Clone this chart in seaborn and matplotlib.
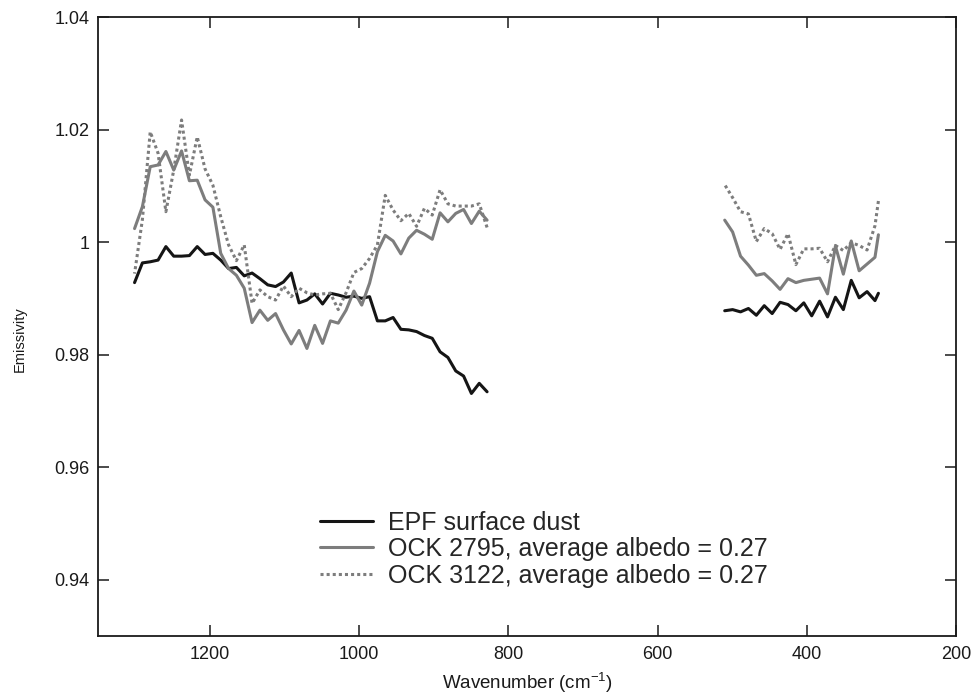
import numpy as np
import pandas as pd
import matplotlib
matplotlib.use("Agg")
import matplotlib.pyplot as plt
import seaborn as sns

# ---------------- data ----------------
wn_mid = [1301.0, 1290.5, 1280.0, 1269.5, 1259.0, 1248.5, 1238.0, 1227.5, 1217.0, 1206.5,
          1196.0, 1185.5, 1175.0, 1164.5, 1154.0, 1143.5, 1133.0, 1122.5, 1112.0, 1101.5,
          1091.0, 1080.5, 1070.0, 1059.5, 1049.0, 1038.5, 1028.0, 1017.5, 1007.0, 996.5,
          986.0, 975.5, 965.0, 954.5, 944.0, 933.5, 923.0, 912.5, 902.0, 891.5,
          881.0, 870.5, 860.0, 849.5, 839.0, 828.5]
wn_far = [510.0, 499.4, 488.8, 478.2, 467.6, 457.0, 446.4, 435.8, 425.2, 414.6,
          404.0, 393.4, 382.8, 372.2, 361.6, 351.0, 340.4, 329.8, 319.2, 308.6, 304.0]

epf_mid = [0.9928, 0.9963, 0.9965, 0.9968, 0.9992, 0.9975, 0.9975, 0.9976, 0.9992, 0.9978,
           0.9980, 0.9968, 0.9953, 0.9955, 0.9940, 0.9945, 0.9935, 0.9924, 0.9921, 0.9929,
           0.9945, 0.9892, 0.9897, 0.9908, 0.9890, 0.9909, 0.9906, 0.9902, 0.9904, 0.9900,
           0.9903, 0.9860, 0.9860, 0.9866, 0.9845, 0.9844, 0.9841, 0.9834, 0.9829, 0.9805,
           0.9795, 0.9771, 0.9762, 0.9731, 0.9749, 0.9734]
epf_far = [0.9878, 0.9880, 0.9876, 0.9882, 0.9870, 0.9887, 0.9873, 0.9893, 0.9889, 0.9878,
           0.9892, 0.9869, 0.9895, 0.9867, 0.9902, 0.9880, 0.9932, 0.9901, 0.9912, 0.9896,
           0.9909]

ock2795_mid = [1.0024, 1.0063, 1.0134, 1.0137, 1.0161, 1.0128, 1.0162, 1.0109, 1.0110, 1.0075,
               1.0062, 0.9980, 0.9953, 0.9941, 0.9918, 0.9857, 0.9879, 0.9861, 0.9873, 0.9844,
               0.9819, 0.9843, 0.9811, 0.9852, 0.9820, 0.9860, 0.9856, 0.9879, 0.9913, 0.9888,
               0.9927, 0.9983, 1.0012, 1.0002, 0.9979, 1.0007, 1.0021, 1.0014, 1.0005, 1.0052,
               1.0036, 1.0051, 1.0058, 1.0033, 1.0055, 1.0039]
ock2795_far = [1.0039, 1.0018, 0.9975, 0.9959, 0.9941, 0.9944, 0.9931, 0.9916, 0.9935, 0.9928,
               0.9932, 0.9934, 0.9936, 0.9908, 0.9993, 0.9943, 1.0002, 0.9949, 0.9961, 0.9973,
               1.0013]

ock3122_mid = [0.9944, 1.0040, 1.0196, 1.0158, 1.0054, 1.0128, 1.0217, 1.0119, 1.0187, 1.0130,
               1.0101, 1.0045, 0.9995, 0.9967, 0.9995, 0.9891, 0.9915, 0.9903, 0.9897, 0.9922,
               0.9903, 0.9918, 0.9910, 0.9906, 0.9908, 0.9909, 0.9880, 0.9910, 0.9946, 0.9953,
               0.9971, 0.9995, 1.0083, 1.0057, 1.0038, 1.0051, 1.0028, 1.0060, 1.0048, 1.0093,
               1.0068, 1.0064, 1.0064, 1.0064, 1.0068, 1.0026]
ock3122_far = [1.0102, 1.0079, 1.0054, 1.0050, 1.0001, 1.0024, 1.0015, 0.9987, 1.0015, 0.9960,
               0.9988, 0.9988, 0.9989, 0.9965, 0.9994, 0.9985, 0.9999, 0.9994, 0.9986, 1.0029,
               1.0073]

series_names = ["EPF surface dust",
                "OCK 2795, average albedo = 0.27",
                "OCK 3122, average albedo = 0.27"]

x_ticks = [1200, 1000, 800, 600, 400, 200]
x_tick_labels = ["1200", "1000", "800", "600", "400", "200"]
y_ticks = [0.94, 0.96, 0.98, 1.00, 1.02, 1.04]
y_tick_labels = ["0.94", "0.96", "0.98", "1", "1.02", "1.04"]

# ---------------- table ----------------
rows = []
for name, mid, far in zip(series_names,
                          [epf_mid, ock2795_mid, ock3122_mid],
                          [epf_far, ock2795_far, ock3122_far]):
    for w, v in zip(wn_mid, mid):
        rows.append((name, "mid", w, v))
    for w, v in zip(wn_far, far):
        rows.append((name, "far", w, v))
df = pd.DataFrame(rows, columns=["series", "segment", "wavenumber", "emissivity"])

# ---------------- style ----------------
sns.set_theme(style="ticks")
plt.rcParams["font.family"] = ["Liberation Sans", "DejaVu Sans"]
plt.rcParams["mathtext.fontset"] = "custom"
plt.rcParams["mathtext.rm"] = "Liberation Sans"
plt.rcParams["mathtext.it"] = "Liberation Sans:italic"
plt.rcParams["mathtext.bf"] = "Liberation Sans:bold"

styles = {
    series_names[0]: dict(color="#151515", linestyle="-", linewidth=2.2),
    series_names[1]: dict(color="#7d7d7d", linestyle="-", linewidth=2.2),
    series_names[2]: dict(color="#7d7d7d", linestyle=(0, (1, 1)), linewidth=2.2),
}

fig = plt.figure(figsize=(9.77, 6.96), dpi=100)
ax = fig.add_axes([98 / 977, 1 - 636 / 696, (956 - 98) / 977, (636 - 17) / 696])

for name in series_names:
    for seg in ["mid", "far"]:
        sub = df[(df["series"] == name) & (df["segment"] == seg)]
        sns.lineplot(data=sub, x="wavenumber", y="emissivity", ax=ax,
                     label=name if seg == "mid" else None, legend=False,
                     **styles[name])

ax.set_xlim(1350, 200)
ax.set_ylim(0.93, 1.04)
ax.set_xticks(x_ticks)
ax.set_xticklabels(x_tick_labels)
ax.set_yticks(y_ticks)
ax.set_yticklabels(y_tick_labels)

ax.tick_params(direction="in", top=True, right=True, length=8, width=1.1,
               labelsize=13, colors="#1a1a1a")
ax.tick_params(axis="x", pad=7)
ax.tick_params(axis="y", pad=6)
for sp in ax.spines.values():
    sp.set_visible(True)
    sp.set_linewidth(1.3)
    sp.set_color("#1a1a1a")

ax.set_xlabel(r"Wavenumber (cm$^{-1}$)", fontsize=13.5, labelpad=6, color="#1a1a1a")
ax.set_ylabel("Emissivity", fontsize=10.5, labelpad=16, color="#1a1a1a")
ax.yaxis.set_label_coords(-0.083, 0.48)

handles, labels = ax.get_legend_handles_labels()
ax.legend(handles, labels, loc="center left",
          bbox_to_anchor=((320 - 98) / 858, (636 - 549) / 619),
          frameon=False, fontsize=18, handlelength=2.1, handletextpad=0.6,
          labelspacing=0.1, borderpad=0, borderaxespad=0)

fig.savefig("out.png", dpi=100, facecolor="white")
